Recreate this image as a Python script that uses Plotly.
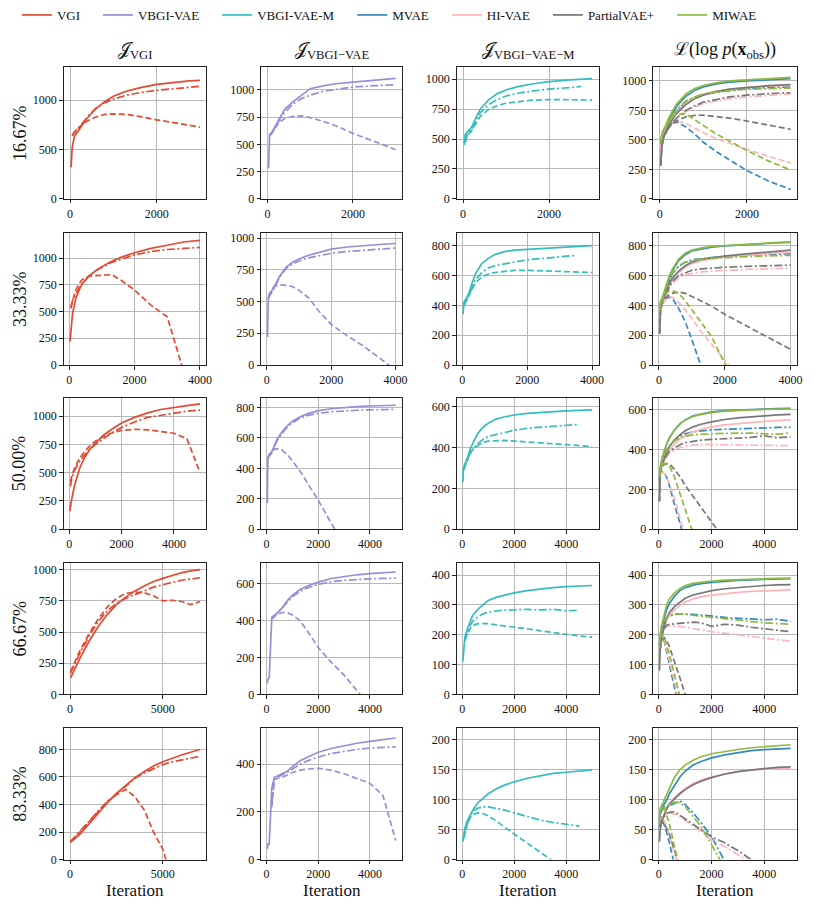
import plotly.graph_objects as go
from plotly.subplots import make_subplots

left_methods = ["VGI", "VBGI-VAE", "VBGI-VAE-M"]
right_methods = ["MVAE", "HI-VAE", "PartialVAE+", "MIWAE"]
legend_order = ["VGI", "VBGI-VAE", "VBGI-VAE-M", "MVAE", "HI-VAE", "PartialVAE+", "MIWAE"]
colors = {"VGI": "#E24A33", "VBGI-VAE": "#988ED5", "VBGI-VAE-M": "#35BDBD", "MVAE": "#348ABD",
          "HI-VAE": "#FFB5B8", "PartialVAE+": "#777777", "MIWAE": "#8EBA42"}
row_labels = ["16.67%", "33.33%", "50.00%", "66.67%", "83.33%"]
col_titles = ["𝒥<sub>VGI</sub>", "𝒥<sub>VBGI−VAE</sub>", "𝒥<sub>VBGI−VAE−M</sub>",
              "ℒ(log <i>p</i>(<b>x</b><sub>obs</sub>))"]

# iteration checkpoints
it_3k = [25, 50, 100, 200, 300, 400, 600, 800, 1000, 1300, 1600, 2000, 2500, 2750, 3000]
it_4k = [25, 50, 100, 200, 300, 400, 600, 800, 1000, 1300, 1600, 2000, 2500, 3000, 3500, 4000]
it_5k = [25, 50, 100, 200, 300, 400, 600, 800, 1000, 1300, 1600, 2000, 2500, 3000, 3500, 4000, 4500, 5000]
it_7k = [25, 250, 500, 1000, 1500, 2000, 2500, 3000, 3500, 4000, 4500, 5000, 5500, 6000, 6500, 7000]

# values per method: [solid, dashdot, dashed]
miss_16 = {
    "VGI": [[320, 520, 630, 700, 760, 820, 915, 985, 1040, 1090, 1125, 1160, 1185, 1195, 1200],
            [None, 640, 680, 720, 780, 830, 920, 975, 1010, 1050, 1075, 1100, 1120, 1130, 1140],
            [None, 640, 670, 720, 760, 790, 830, 855, 860, 855, 835, 800, 765, 745, 727]],
    "VBGI-VAE": [[280, 590, 610, 680, 760, 820, 890, 950, 1010, 1035, 1055, 1070, 1090, 1097, 1105],
                 [None, 580, 600, 660, 740, 790, 870, 920, 950, 985, 1005, 1025, 1037, 1042, 1045],
                 [None, 580, 600, 660, 710, 735, 757, 760, 745, 710, 670, 600, 530, 490, 450]],
    "VBGI-VAE-M": [[450, 540, 560, 600, 680, 750, 830, 880, 910, 940, 960, 980, 995, 1000, 1005],
                   [None, 480, 540, 580, 650, 720, 790, 830, 860, 885, 900, 918, 930, 940],
                   [None, 470, 530, 570, 630, 690, 750, 780, 800, 815, 825, 830, 832, 828, 825]],
    "MVAE": [[470, 530, 580, 660, 730, 790, 870, 920, 950, 975, 990, 1000, 1010, 1015, 1020],
             [450, 520, 570, 640, 700, 750, 820, 860, 885, 905, 920, 935, 945, 948, 950],
             [450, 520, 570, 620, 645, 650, 610, 550, 480, 400, 330, 240, 150, 115, 80]],
    "HI-VAE": [[420, 500, 560, 630, 690, 740, 810, 860, 890, 915, 930, 945, 955, 960, 963],
               [400, 480, 540, 600, 650, 690, 740, 780, 805, 830, 850, 865, 880, 885, 890],
               [420, 500, 560, 620, 650, 660, 640, 600, 560, 510, 470, 420, 360, 330, 305]],
    "PartialVAE+": [[280, 450, 540, 620, 680, 730, 800, 850, 880, 910, 930, 945, 960, 965, 970],
                    [300, 450, 530, 600, 650, 690, 750, 790, 820, 845, 865, 880, 895, 898, 900],
                    [290, 450, 530, 600, 640, 665, 695, 708, 710, 700, 685, 660, 625, 608, 590]],
    "MIWAE": [[490, 550, 590, 680, 750, 810, 890, 935, 960, 985, 1000, 1010, 1020, 1025, 1030],
              [470, 530, 580, 650, 710, 760, 830, 865, 890, 905, 918, 928, 935, 938, 940],
              [480, 550, 600, 660, 700, 715, 720, 670, 620, 550, 490, 410, 320, 280, 245]],
}

miss_33 = {
    "VGI": [[220, 320, 480, 620, 700, 760, 830, 880, 920, 970, 1010, 1050, 1090, 1120, 1150, 1165],
            [None, 540, 600, 660, 720, 760, 830, 880, 910, 960, 990, 1030, 1060, 1080, 1090, 1100],
            [None, 530, 600, 700, 760, 800, 830, 835, 840, 845, 790, 700, 560, 450, -60]],
    "VBGI-VAE": [[220, 530, 560, 600, 650, 700, 770, 810, 835, 865, 885, 914, 930, 942, 950, 958],
                 [None, 520, 550, 590, 640, 690, 760, 795, 820, 845, 860, 880, 895, 905, 915, 922],
                 [None, 540, 570, 610, 625, 632, 628, 618, 590, 530, 430, 320, 230, 150, 55, -40]],
    "VBGI-VAE-M": [[340, 420, 440, 480, 550, 610, 680, 715, 740, 760, 770, 775, 785, 790, 795, 800],
                   [None, 400, 420, 460, 520, 570, 620, 650, 665, 680, 690, 705, 715, 725, 735],
                   [None, 400, 420, 460, 510, 550, 590, 610, 620, 630, 635, 635, 632, 628, 622, 620]],
    "MVAE": [[370, 420, 445, 510, 580, 630, 700, 740, 765, 780, 790, 798, 806, 812, 818, 822],
             [None, 400, 430, 490, 560, 610, 660, 690, 705, 715, 720, 728, 735, 740, 743, 745],
             [330, 380, 410, 440, 455, 450, 380, 290, 170, -20]],
    "HI-VAE": [[330, 390, 420, 480, 530, 570, 620, 655, 680, 700, 712, 725, 735, 742, 750, 755],
               [None, 370, 410, 460, 510, 545, 585, 605, 615, 625, 630, 635, 640, 644, 647, 650],
               [300, 360, 400, 440, 458, 455, 420, 370, 310, 220, 140, 30, -100]],
    "PartialVAE+": [[210, 380, 430, 490, 540, 580, 630, 665, 690, 710, 720, 730, 742, 752, 762, 770],
                    [None, 380, 420, 470, 520, 560, 600, 620, 635, 645, 650, 655, 660, 664, 667, 670],
                    [210, 380, 420, 450, 470, 480, 490, 480, 460, 430, 395, 340, 280, 220, 160, 105]],
    "MIWAE": [[380, 430, 450, 520, 590, 640, 710, 750, 770, 785, 795, 800, 808, 815, 820, 825],
              [None, 410, 440, 500, 570, 615, 665, 690, 700, 710, 715, 720, 725, 730, 733, 735],
              [360, 410, 440, 480, 495, 500, 480, 430, 370, 280, 190, 10, -100]],
}

miss_50 = {
    "VGI": [[160, 200, 270, 380, 470, 540, 640, 710, 760, 830, 880, 940, 990, 1030, 1060, 1080, 1095, 1110],
            [None, 380, 450, 520, 560, 600, 660, 710, 750, 800, 850, 900, 950, 990, 1010, 1030, 1045, 1055],
            [None, 420, 470, 540, 590, 630, 690, 740, 780, 820, 850, 875, 885, 880, 865, 850, 800, 500]],
    "VBGI-VAE": [[170, 470, 490, 510, 550, 590, 640, 680, 710, 740, 760, 780, 792, 800, 806, 810, 813, 815],
                 [None, 460, 480, 500, 540, 580, 630, 670, 700, 730, 748, 762, 772, 778, 782, 785, 787, 788],
                 [None, 470, 490, 510, 525, 530, 520, 490, 450, 380, 300, 190, 40, -100]],
    "VBGI-VAE-M": [[230, 300, 320, 350, 390, 420, 470, 500, 520, 540, 550, 560, 568, 573, 577, 580, 583, 585],
                   [None, 290, 310, 340, 370, 390, 420, 440, 455, 465, 475, 485, 495, 500, 505, 510, 514],
                   [None, 290, 310, 340, 370, 390, 410, 425, 432, 435, 435, 432, 428, 425, 420, 415, 410, 405]],
    "MVAE": [[250, 300, 340, 390, 430, 460, 500, 530, 550, 570, 580, 590, 597, 600, 603, 605, 607, 608],
             [None, 300, 330, 370, 400, 420, 450, 470, 480, 490, 495, 500, 503, 506, 508, 510, 512, 513],
             [270, 285, 290, 285, 260, 220, 120, 30, -60]],
    "HI-VAE": [[220, 280, 310, 350, 380, 400, 430, 455, 470, 490, 502, 515, 525, 532, 538, 543, 547, 550],
               [None, 280, 305, 340, 365, 380, 400, 410, 418, 423, 425, 427, 425, 424, 422, 420, 421, 420],
               [240, 270, 285, 280, 260, 230, 150, 60, -40]],
    "PartialVAE+": [[140, 280, 320, 360, 390, 415, 450, 475, 495, 515, 528, 540, 552, 560, 566, 571, 575, 578],
                    [None, 290, 320, 350, 375, 390, 410, 425, 435, 442, 448, 452, 456, 459, 462, 470, 460, 465],
                    [140, 280, 310, 325, 330, 330, 300, 265, 220, 165, 110, 37, -55]],
    "MIWAE": [[260, 310, 345, 395, 430, 458, 500, 530, 550, 568, 578, 587, 594, 598, 601, 603, 604, 605],
              [None, 300, 330, 370, 400, 420, 445, 460, 468, 475, 478, 480, 482, 483, 484, 480, 478, 485],
              [280, 300, 320, 330, 330, 320, 260, 180, 100, -20]],
}

miss_67 = {
    "VGI": [[130, 200, 280, 420, 540, 640, 720, 780, 830, 870, 905, 930, 955, 975, 990, 1000],
            [170, 240, 320, 460, 580, 670, 730, 770, 800, 830, 860, 880, 900, 915, 925, 935],
            [180, 260, 340, 480, 600, 700, 770, 810, 820, 815, 790, 750, 755, 745, 720, 745]],
    "VBGI-VAE": [[60, 80, 90, 420, 430, 440, 470, 510, 540, 570, 590, 610, 630, 642, 650, 656, 662, 665],
                 [None, None, None, 410, 425, 435, 465, 500, 530, 560, 580, 598, 612, 620, 625, 628, 630, 632],
                 [None, None, None, 410, 425, 435, 445, 445, 432, 400, 340, 255, 175, 105, 20, -60]],
    "VBGI-VAE-M": [[110, 150, 190, 220, 245, 265, 285, 300, 315, 325, 332, 340, 348, 354, 358, 361, 363, 365],
                   [None, None, 180, 210, 230, 245, 260, 270, 275, 280, 282, 283, 285, 283, 285, 280, 282],
                   [None, None, 180, 205, 220, 230, 237, 238, 237, 233, 230, 226, 220, 213, 207, 200, 196, 192]],
    "MVAE": [[165, 195, 220, 255, 285, 305, 330, 348, 358, 366, 371, 375, 379, 382, 384, 386, 387, 388],
             [None, 190, 215, 240, 255, 262, 268, 270, 270, 268, 266, 262, 258, 255, 252, 250, 252, 245],
             [None, 170, 190, 180, 140, 100, 20, -60]],
    "HI-VAE": [[120, 160, 190, 225, 250, 265, 285, 298, 310, 320, 327, 333, 338, 342, 345, 347, 349, 350],
               [None, 170, 200, 220, 228, 230, 230, 228, 225, 220, 215, 210, 205, 200, 195, 190, 185, 178],
               [None, 170, 190, 185, 150, 115, 40, -40]],
    "PartialVAE+": [[80, 150, 190, 230, 255, 275, 295, 310, 322, 333, 340, 348, 354, 358, 362, 365, 367, 368],
                    [None, 170, 200, 220, 232, 235, 237, 238, 240, 242, 240, 228, 235, 232, 225, 220, 215, 210],
                    [None, 150, 180, 190, 180, 160, 110, 55, 0, -60]],
    "MIWAE": [[160, 200, 230, 270, 300, 320, 340, 355, 365, 372, 376, 380, 383, 385, 387, 388, 389, 390],
              [None, 195, 220, 245, 258, 265, 270, 270, 268, 266, 262, 258, 252, 248, 244, 240, 238, 235],
              [None, 190, 200, 195, 165, 135, 65, -10]],
}

miss_83 = {
    "VGI": [[125, 150, 180, 255, 335, 412, 480, 540, 595, 640, 680, 711, 738, 760, 780, 800],
            [130, 165, 200, 275, 350, 420, 475, 530, 590, 630, 660, 690, 710, 725, 738, 750],
            [130, 160, 195, 270, 345, 420, 470, 510, 455, 360, 200, 75, -150]],
    "VBGI-VAE": [[45, 65, 65, 300, 345, 350, 360, 370, 390, 415, 430, 450, 466, 478, 488, 496, 503, 510],
                 [None, None, None, 230, 340, 345, 355, 365, 380, 400, 415, 430, 445, 455, 462, 468, 471, 473],
                 [None, None, None, 220, 335, 340, 345, 355, 365, 375, 380, 383, 375, 360, 340, 320, 270, 80]],
    "VBGI-VAE-M": [[30, 40, 52, 65, 75, 82, 95, 103, 110, 118, 124, 130, 136, 140, 144, 146, 148, 150],
                   [None, 35, 45, 60, 72, 80, 86, 88, 88, 86, 83, 78, 72, 66, 62, 59, 56],
                   [None, 35, 45, 60, 70, 75, 78, 77, 73, 65, 55, 43, 28, 12, -3]],
    "MVAE": [[62, 80, 85, 92, 100, 110, 125, 138, 148, 158, 164, 170, 175, 179, 182, 184, 185, 186],
             [None, 75, 82, 86, 88, 90, 95, 98, 92, 78, 62, 38, -3],
             [50, 65, 72, 60, 45, 28, -10]],
    "HI-VAE": [[40, 55, 65, 77, 87, 94, 104, 112, 119, 127, 133, 138, 143, 147, 150, 151, 152, 153],
               [None, 60, 68, 74, 77, 78, 76, 72, 66, 56, 47, 33, 22, 8, -5],
               [None, 60, 70, 65, 55, 40, 10, -20]],
    "PartialVAE+": [[30, 50, 62, 75, 85, 92, 102, 110, 117, 125, 131, 137, 143, 147, 150, 152, 154, 155],
                    [None, 55, 65, 72, 77, 79, 80, 74, 68, 58, 50, 38, 28, 15, 0, -15],
                    [None, 55, 62, 60, 52, 42, 15, -15]],
    "MIWAE": [[60, 85, 90, 100, 110, 120, 138, 150, 158, 166, 172, 177, 181, 184, 187, 189, 191, 192],
              [None, 80, 85, 88, 90, 92, 96, 95, 88, 72, 55, 25, -15],
              [None, 80, 90, 88, 75, 60, 20, -15]],
}

row_data = [miss_16, miss_33, miss_50, miss_67, miss_83]
row_iters_left = [it_3k, it_4k, it_5k, it_7k, it_7k]
row_iters = [it_3k, it_4k, it_5k, it_5k, it_5k]

# axis limits
x_ranges = [[[-150, 3150]] * 4,
            [[-175, 4200]] * 4,
            [[-215, 5245]] * 4,
            [[-350, 7350]] + [[-215, 5245]] * 3,
            [[-350, 7350]] + [[-215, 5245]] * 3]
x_dticks = [[2000] * 4, [2000] * 4, [2000] * 4, [5000, 2000, 2000, 2000], [5000, 2000, 2000, 2000]]
y_ranges = [[1333, 1206, 1100, 1116],
            [1230, 1037, 882, 882],
            [1165, 865, 645, 662],
            [1055, 715, 441, 441],
            [956, 552, 220, 220]]
y_dticks = [[500, 250, 250, 250],
            [250, 250, 200, 200],
            [250, 200, 200, 200],
            [250, 200, 100, 100],
            [200, 200, 50, 50]]

W, H = 818, 916
col_px = [(64, 208), (263, 405), (460, 603), (658, 803)]
row_px = [(65, 198), (233, 366), (399, 532), (566, 699), (733, 866)]

dash_styles = ["solid", "8px,2.5px,2px,2.5px", "6px,3px"]
serif = "Liberation Serif"
pad = "\u00a0\u00a0\u00a0\u00a0"

fig = make_subplots(rows=5, cols=4)
shown = set()
for r in range(5):
    data = row_data[r]
    for c in range(4):
        names = [left_methods[c]] if c < 3 else right_methods
        xs = row_iters_left[r] if c == 0 else row_iters[r]
        for name in names:
            for s, ys in enumerate(data[name]):
                show = s == 0 and name not in shown
                if show:
                    shown.add(name)
                fig.add_trace(go.Scatter(
                    x=xs, y=ys, mode="lines", name=name + pad, legendgroup=name,
                    showlegend=show, legendrank=legend_order.index(name),
                    line=dict(color=colors[name], width=1.7, dash=dash_styles[s]),
                    connectgaps=False, hoverinfo="skip"), row=r + 1, col=c + 1)

        x0, x1 = col_px[c]
        t, b = row_px[r]
        fig.update_xaxes(domain=[x0 / W, x1 / W], range=x_ranges[r][c], dtick=x_dticks[r][c],
                         tick0=0, row=r + 1, col=c + 1)
        fig.update_yaxes(domain=[1 - b / H, 1 - t / H], range=[0, y_ranges[r][c]],
                         dtick=y_dticks[r][c], tick0=0, row=r + 1, col=c + 1)

fig.update_xaxes(showline=True, mirror=True, linecolor="#222", linewidth=1, ticks="outside",
                 ticklen=3.5, tickcolor="#222", showgrid=True, gridcolor="#b8b8b8", gridwidth=0.8,
                 zeroline=False, tickfont=dict(family=serif, size=12, color="#111"))
fig.update_yaxes(showline=True, mirror=True, linecolor="#222", linewidth=1, ticks="outside",
                 ticklen=3.5, tickcolor="#222", showgrid=True, gridcolor="#b8b8b8", gridwidth=0.8,
                 zeroline=False, tickfont=dict(family=serif, size=12, color="#111"))

annotations = []
for c, title in enumerate(col_titles):
    xc = (col_px[c][0] + col_px[c][1]) / 2 / W
    annotations.append(dict(text=title, x=xc, y=1 - 62 / H, xref="paper", yref="paper",
                            xanchor="center", yanchor="bottom", showarrow=False,
                            font=dict(family=serif, size=18, color="#111")))
    annotations.append(dict(text="Iteration", x=xc, y=1 - 897 / H, xref="paper", yref="paper",
                            xanchor="center", yanchor="middle", showarrow=False,
                            font=dict(family=serif, size=17, color="#111")))
for r, lab in enumerate(row_labels):
    yc = 1 - (row_px[r][0] + row_px[r][1]) / 2 / H
    annotations.append(dict(text=lab, x=20 / W, y=yc, xref="paper", yref="paper", textangle=-90,
                            xanchor="center", yanchor="middle", showarrow=False,
                            font=dict(family=serif, size=18, color="#111")))

fig.update_layout(
    width=W, height=H, margin=dict(l=0, r=0, t=0, b=0),
    paper_bgcolor="white", plot_bgcolor="white",
    annotations=annotations,
    legend=dict(orientation="h", x=17 / W, y=1 - 12 / H, xanchor="left", yanchor="middle",
                font=dict(family=serif, size=13, color="#111"), itemwidth=30,
                traceorder="normal"),
    font=dict(family=serif),
)

fig.write_html("out.html", config={"displayModeBar": False},
               post_script="document.body.style.margin='0';document.body.style.overflow='hidden';")
